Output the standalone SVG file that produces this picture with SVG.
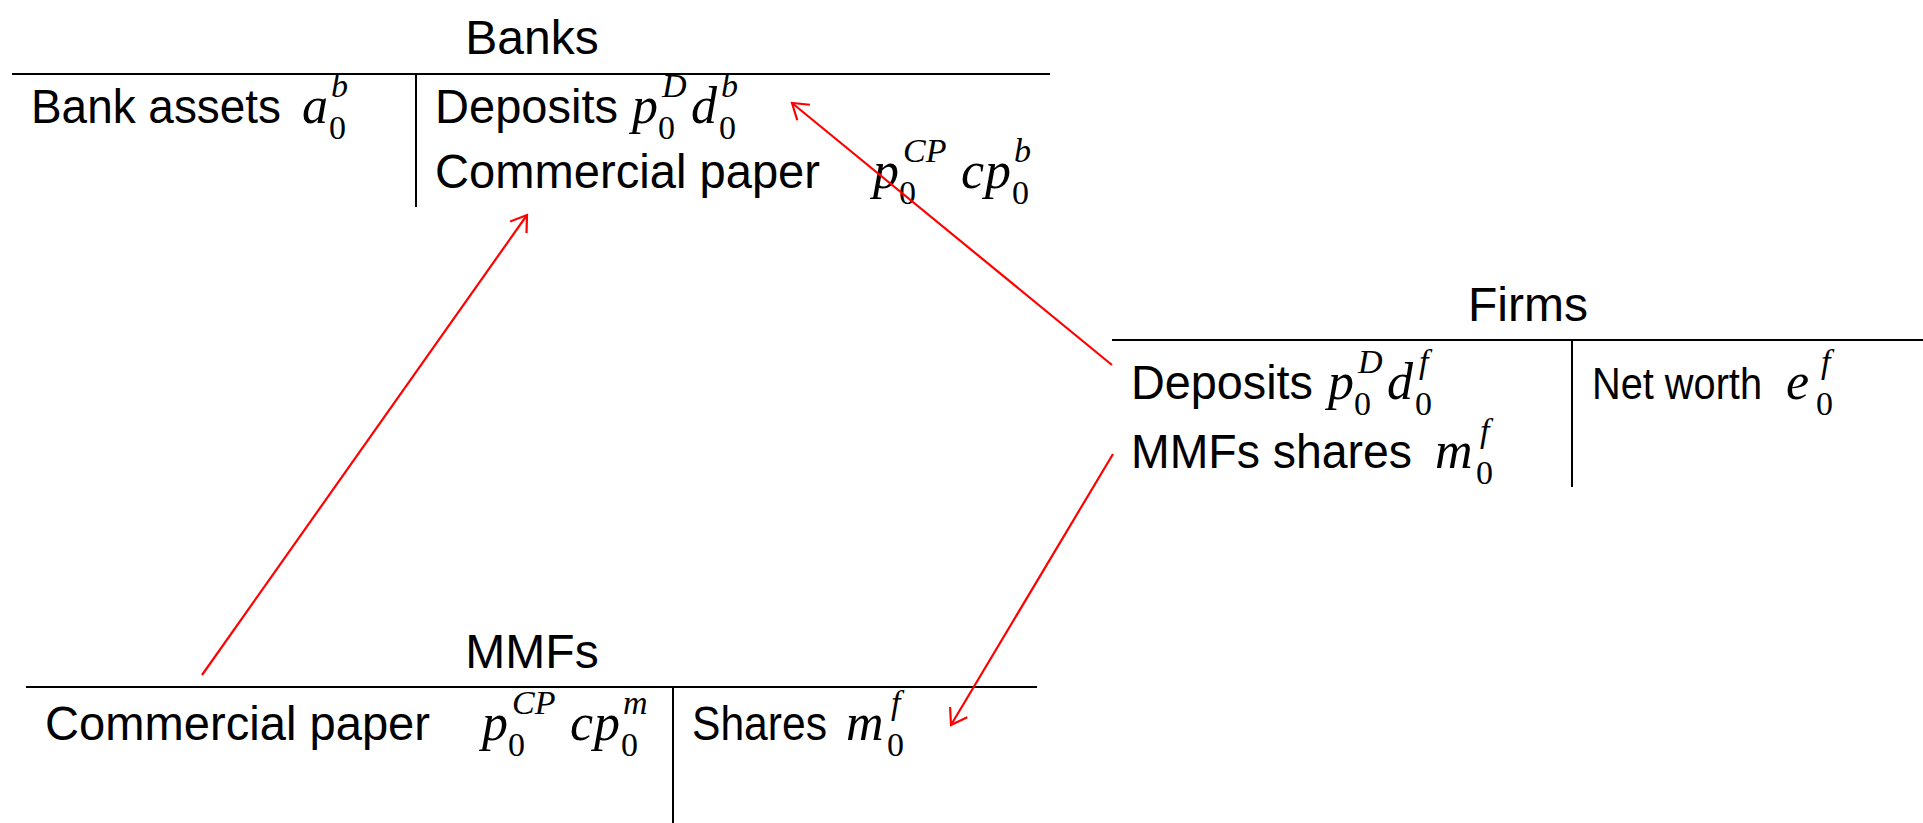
<svg xmlns="http://www.w3.org/2000/svg" width="1923" height="823" viewBox="0 0 1923 823">
<style>
.t{font-family:"Liberation Sans",Arial,sans-serif;font-size:48px;fill:#000}
.ti{font-family:"Liberation Sans",Arial,sans-serif;font-size:48px;fill:#000;text-anchor:middle}
.m{font-family:"Liberation Serif","Times New Roman",serif;font-style:italic;font-size:52px;fill:#000}
.s{font-family:"Liberation Serif","Times New Roman",serif;font-style:italic;font-size:34px;fill:#000}
.z{font-family:"Liberation Serif","Times New Roman",serif;font-size:34px;fill:#000}
.ln{stroke:#000;stroke-width:2;fill:none}
.ar{stroke:#ff0000;stroke-width:2.2;fill:none}
</style>
<defs>
<marker id="ah" markerUnits="userSpaceOnUse" markerWidth="40" markerHeight="40" viewBox="-20 -20 40 40" refX="0" refY="0" orient="auto">
<path d="M-15,-10 L0,0 L-15,10" stroke="#ff0000" stroke-width="2.2" fill="none"/>
</marker>
</defs>
<g id="banks">
<text class="ti" x="532" y="54">Banks</text>
<line class="ln" x1="12" y1="74" x2="1050" y2="74"/>
<line class="ln" x1="416" y1="74" x2="416" y2="207"/>
<text class="t" x="31" y="123" textLength="250" lengthAdjust="spacingAndGlyphs">Bank assets</text>
<text class="m" x="302" y="123">a</text><text class="s" x="331" y="97">b</text><text class="z" x="329" y="139">0</text>
<text class="t" x="435" y="123" textLength="183" lengthAdjust="spacingAndGlyphs">Deposits</text>
<text class="m" x="632" y="123">p</text><text class="s" x="662" y="97">D</text><text class="z" x="658" y="139">0</text>
<text class="m" x="691" y="123">d</text><text class="s" x="721" y="97">b</text><text class="z" x="719" y="139">0</text>
<text class="t" x="435" y="188" textLength="385" lengthAdjust="spacingAndGlyphs">Commercial paper</text>
<text class="m" x="873" y="188">p</text><text class="s" x="903" y="162">CP</text><text class="z" x="899" y="204">0</text>
<text class="m" x="961" y="188">c</text><text class="m" x="985" y="188">p</text><text class="s" x="1014" y="162">b</text><text class="z" x="1012" y="204">0</text>
</g>
<g id="firms">
<text class="ti" x="1528" y="321">Firms</text>
<line class="ln" x1="1112" y1="340" x2="1923" y2="340"/>
<line class="ln" x1="1572" y1="340" x2="1572" y2="487"/>
<text class="t" x="1131" y="399" textLength="182" lengthAdjust="spacingAndGlyphs">Deposits</text>
<text class="m" x="1328" y="399">p</text><text class="s" x="1358" y="373">D</text><text class="z" x="1354" y="415">0</text>
<text class="m" x="1387" y="399">d</text><text class="s" x="1419" y="373">f</text><text class="z" x="1415" y="415">0</text>
<text class="t" x="1592" y="399" style="font-size:45px" textLength="170" lengthAdjust="spacingAndGlyphs">Net worth</text>
<text class="m" x="1786" y="399">e</text><text class="s" x="1821" y="373">f</text><text class="z" x="1816" y="415">0</text>
<text class="t" x="1131" y="468" textLength="281" lengthAdjust="spacingAndGlyphs">MMFs shares</text>
<text class="m" x="1435" y="468">m</text><text class="s" x="1480" y="442">f</text><text class="z" x="1476" y="484">0</text>
</g>
<g id="mmfs">
<text class="ti" x="532" y="668">MMFs</text>
<line class="ln" x1="26" y1="687" x2="1037" y2="687"/>
<line class="ln" x1="673" y1="687" x2="673" y2="823"/>
<text class="t" x="45" y="740" textLength="385" lengthAdjust="spacingAndGlyphs">Commercial paper</text>
<text class="m" x="482" y="740">p</text><text class="s" x="512" y="714">CP</text><text class="z" x="508" y="756">0</text>
<text class="m" x="570" y="740">c</text><text class="m" x="594" y="740">p</text><text class="s" x="623" y="714">m</text><text class="z" x="621" y="756">0</text>
<text class="t" x="692" y="740" textLength="135" lengthAdjust="spacingAndGlyphs">Shares</text>
<text class="m" x="846" y="740">m</text><text class="s" x="891" y="714">f</text><text class="z" x="887" y="756">0</text>
</g>
<g id="connectors">
<line class="ar" x1="202" y1="675" x2="527" y2="215" marker-end="url(#ah)"/>
<line class="ar" x1="1112" y1="365" x2="792" y2="103" marker-end="url(#ah)"/>
<line class="ar" x1="1113" y1="454" x2="951" y2="725" marker-end="url(#ah)"/>
</g>
</svg>
